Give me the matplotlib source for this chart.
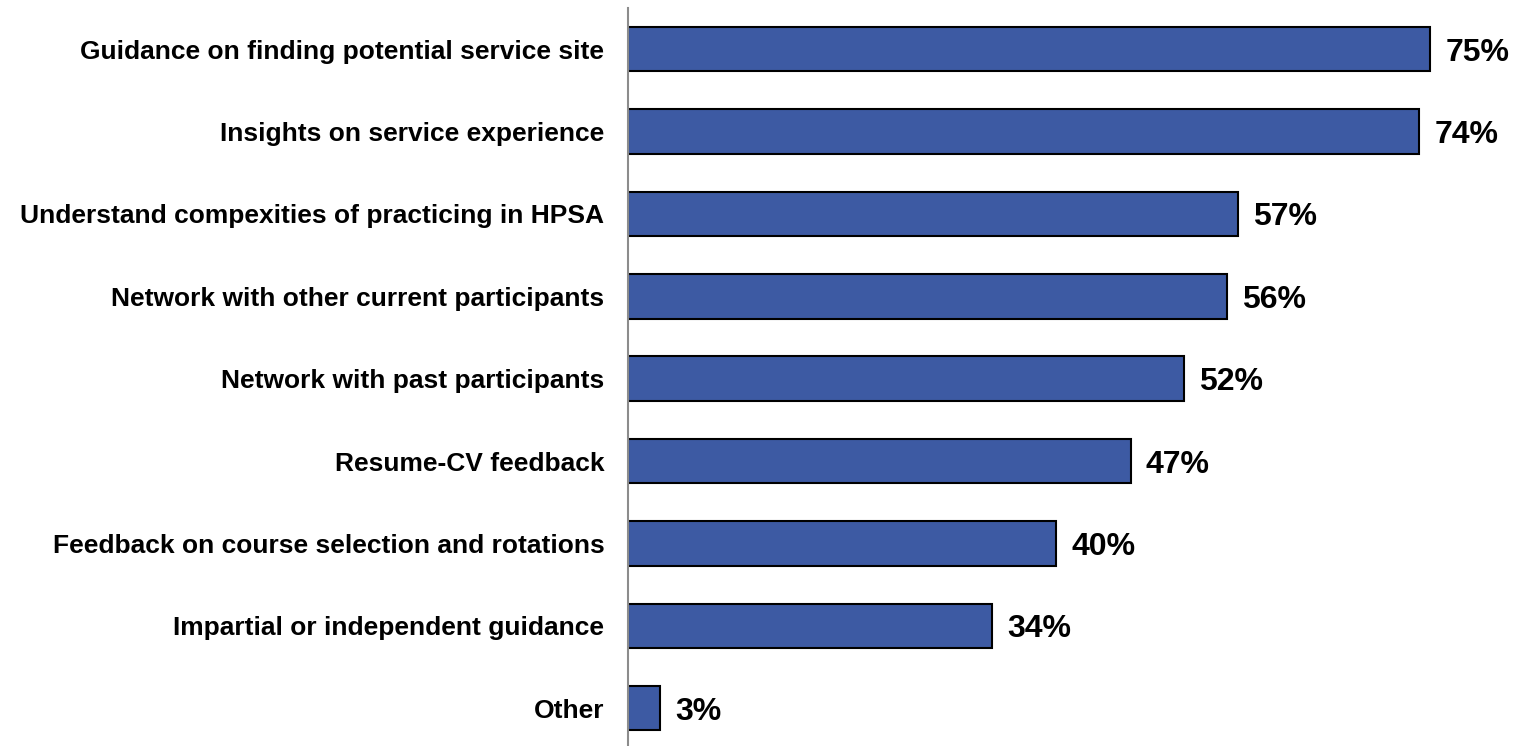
import matplotlib
matplotlib.use('Agg')
import matplotlib.pyplot as plt

# survey responses
categories = ['Guidance on finding potential service site',
              'Insights on service experience',
              'Understand compexities of practicing in HPSA',
              'Network with other current participants',
              'Network with past participants',
              'Resume-CV feedback',
              'Feedback on course selection and rotations',
              'Impartial or independent guidance',
              'Other']
values = [75, 74, 57, 56, 52, 47, 40, 34, 3]

plt.rcParams['font.family'] = ['Liberation Sans', 'DejaVu Sans']

fig = plt.figure(figsize=(15.22, 7.46), dpi=100)
ax = fig.add_axes([628/1522, 0, 894/1522, 738/746])

ypos = list(range(len(categories)))
ax.barh(ypos, values, height=0.54, color='#3D5AA3', edgecolor='black', linewidth=1.5)

for y, v in zip(ypos, values):
    ax.annotate(f'{v}%', (v, y), xytext=(11, 0), textcoords='offset points',
                ha='left', va='center_baseline', fontsize=23, fontweight='bold')

ax.set_xlim(0, 83.6)
ax.set_ylim(8.46, -0.5)
ax.set_yticks(ypos)
ax.set_yticklabels(categories, fontsize=19, fontweight='bold')
ax.tick_params(axis='y', length=0, pad=17)
ax.set_xticks([])

for side in ['top', 'right', 'bottom']:
    ax.spines[side].set_visible(False)
ax.spines['left'].set_color('#8c8c8c')
ax.spines['left'].set_linewidth(1.5)

fig.savefig('out.png', dpi=100)
